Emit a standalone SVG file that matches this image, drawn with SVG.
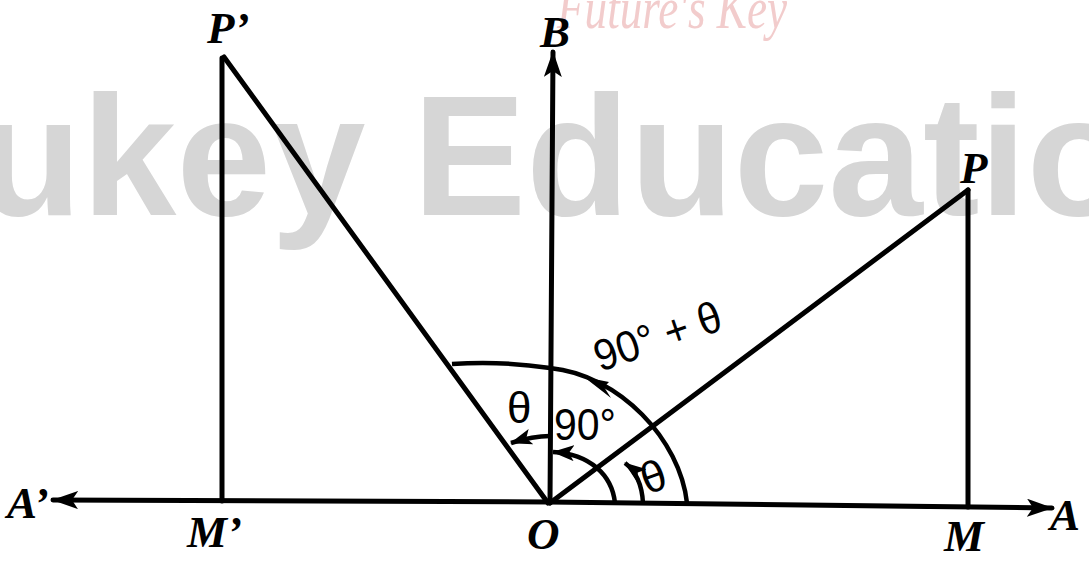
<svg xmlns="http://www.w3.org/2000/svg" width="1089" height="563" viewBox="0 0 1089 563">
<style>
.wm{font-family:"Liberation Sans",Arial,sans-serif;font-weight:bold;font-size:170px;fill:#d6d6d6}
.wm2{font-family:"Liberation Serif",serif;font-style:italic;font-size:60px;fill:#f2cccc}
.lbl{font-family:"Liberation Serif","Times New Roman",serif;font-weight:bold;font-style:italic;font-size:45px;fill:#000}
.ang{font-family:"Liberation Sans",Arial,sans-serif;font-size:44px;fill:#000}
.ln{stroke:#000;stroke-width:5;fill:none;stroke-linecap:round}
.arc{stroke:#000;stroke-width:4.5;fill:none}
</style>
<defs>
<marker id="arr" viewBox="0 0 26 18" refX="25" refY="9" markerWidth="26" markerHeight="18" markerUnits="userSpaceOnUse" orient="auto">
<path d="M0,0 L26,9 L0,18 L6,9 z" fill="#000"/>
</marker>
<marker id="arrs" viewBox="0 0 22 16" refX="21" refY="8" markerWidth="22" markerHeight="16" markerUnits="userSpaceOnUse" orient="auto">
<path d="M0,0 L22,8 L0,16 L5,8 z" fill="#000"/>
</marker>
</defs>
<g id="watermark">
<text class="wm2" x="672" y="28" text-anchor="middle" textLength="230" lengthAdjust="spacingAndGlyphs">Future's Key</text>
<text class="wm" x="-22" y="215">ukey Education</text>
</g>
<g id="connectors">
<line class="ln" x1="548" y1="502" x2="53" y2="500" marker-end="url(#arr)"/>
<line class="ln" x1="548" y1="502" x2="1052" y2="508" marker-end="url(#arr)"/>
<line class="ln" x1="550" y1="503" x2="553" y2="52" marker-end="url(#arr)"/>
<line class="ln" x1="548" y1="503" x2="224" y2="57"/>
<line class="ln" x1="222" y1="58" x2="222" y2="501"/>
<line class="ln" x1="550" y1="503" x2="968" y2="190"/>
<line class="ln" x1="968" y1="190" x2="968" y2="507"/>
<path class="arc" d="M687,503 C680,440 620,375 550,368 C510,362 480,362 452,364"/>
<path d="M584,377 L609,382 L604,387 L611,398 z" fill="#000"/>
<path class="arc" d="M615,503 C612,475 590,454 553,452" marker-end="url(#arrs)"/>
<path class="arc" d="M643,503 C642,485 637,472 625,463" marker-end="url(#arrs)"/>
<path class="arc" d="M550,436 C540,436 530,437 511,443" marker-end="url(#arrs)"/>
</g>
<g id="labels">
<text class="lbl" x="207" y="43">P’</text>
<text class="lbl" x="540" y="47">B</text>
<text class="lbl" x="960" y="183">P</text>
<text class="lbl" x="7" y="518">A’</text>
<text class="lbl" x="187" y="547">M’</text>
<text class="lbl" x="527" y="549">O</text>
<text class="lbl" x="944" y="551">M</text>
<text class="lbl" x="1050" y="530">A</text>
<text class="ang" x="554" y="440" textLength="62" lengthAdjust="spacingAndGlyphs">90°</text>
<text class="ang" x="507" y="423" font-size="40">θ</text>
<text class="ang" x="647" y="495" font-size="38" transform="rotate(-20 647 495)">θ</text>
<text class="ang" x="600" y="372" transform="rotate(-19 600 372)" textLength="132" lengthAdjust="spacingAndGlyphs">90° + θ</text>
</g>
</svg>
